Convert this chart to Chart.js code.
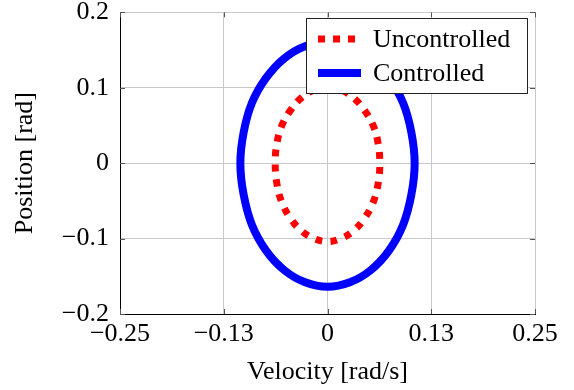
<!DOCTYPE html>
<html>
<head>
<meta charset="utf-8">
<title>Phase portrait</title>
<script src="https://cdn.jsdelivr.net/npm/chart.js@4.4.1/dist/chart.umd.min.js"></script>
<style>
  body { margin: 0; background: #fff; }
  #wrap { width: 574px; height: 390px; }
</style>
</head>
<body>
<div id="wrap"><canvas id="chart1" width="574" height="390"></canvas></div>
<script>
// data (velocity = x, position = y)
const uncontrolledVel = [0, 0.016, 0.031, 0.044, 0.055, 0.061, 0.063, 0.061, 0.055, 0.044, 0.031, 0.016, 0, -0.016, -0.031, -0.044, -0.055, -0.061, -0.063, -0.061, -0.055, -0.044, -0.031, -0.016, 0];
const uncontrolledPos = [0.1, 0.097, 0.087, 0.071, 0.05, 0.026, 0, -0.027, -0.052, -0.074, -0.09, -0.1, -0.104, -0.1, -0.09, -0.074, -0.052, -0.027, 0, 0.026, 0.05, 0.071, 0.087, 0.097, 0.1];

const controlledVel = [0, 0.027, 0.052, 0.074, 0.091, 0.101, 0.105, 0.101, 0.091, 0.074, 0.052, 0.027, 0, -0.027, -0.052, -0.074, -0.091, -0.101, -0.105, -0.101, -0.091, -0.074, -0.052, -0.027, 0];
const controlledPos = [0.16, 0.155, 0.139, 0.113, 0.08, 0.041, 0, -0.042, -0.082, -0.116, -0.142, -0.158, -0.164, -0.158, -0.142, -0.116, -0.082, -0.042, 0, 0.041, 0.08, 0.113, 0.139, 0.155, 0.16];

const xTicks = [-0.25, -0.125, 0, 0.125, 0.25];
const xTickLabels = ["\u22120.25", "\u22120.13", "0", "0.13", "0.25"];
const yTicks = [-0.2, -0.1, 0, 0.1, 0.2];
const yTickLabels = ["\u22120.2", "\u22120.1", "0", "0.1", "0.2"];

const seriesNames = ["Uncontrolled", "Controlled"];

function toPoints(xs, ys) {
  return xs.map(function (x, i) { return { x: x, y: ys[i] }; });
}

const serif = "'Liberation Serif', 'DejaVu Serif', serif";
const fontSize = 26;
const gridColor = "#c8c8c8";

// legend box drawn over the plot, like the pgfplots one
const boxLegend = {
  id: "boxLegend",
  afterDraw(chart) {
    const c = chart.ctx;
    const x0 = 306, y0 = 18, w = 221, h = 75;
    c.save();
    c.fillStyle = "#fff";
    c.fillRect(x0, y0, w, h);
    c.strokeStyle = "#222";
    c.lineWidth = 1;
    c.strokeRect(x0 + 0.5, y0 + 0.5, w, h);
    chart.data.datasets.forEach(function (ds, i) {
      const y = y0 + 21 + i * 34;
      c.beginPath();
      c.strokeStyle = ds.borderColor;
      c.lineWidth = ds.borderWidth;
      c.setLineDash(ds.borderDash || []);
      c.lineCap = "butt";
      c.moveTo(x0 + 12, y);
      c.lineTo(x0 + 55, y);
      c.stroke();
      c.setLineDash([]);
      c.fillStyle = "#000";
      c.font = fontSize + "px " + serif;
      c.textBaseline = "middle";
      c.fillText(ds.label, x0 + 67, y + 1);
    });
    c.restore();
  },
  // small inward tick marks on the axes
  beforeDatasetsDraw(chart) {
    const c = chart.ctx;
    const a = chart.chartArea;
    const xs = chart.scales.x, ys = chart.scales.y;
    c.save();
    c.strokeStyle = "#555";
    c.lineWidth = 1;
    c.beginPath();
    xTicks.forEach(function (v) {
      const px = Math.round(xs.getPixelForValue(v)) + 0.5;
      c.moveTo(px, a.bottom); c.lineTo(px, a.bottom - 5);
      c.moveTo(px, a.top); c.lineTo(px, a.top + 5);
    });
    yTicks.forEach(function (v) {
      const py = Math.round(ys.getPixelForValue(v)) + 0.5;
      c.moveTo(a.left, py); c.lineTo(a.left + 5, py);
      c.moveTo(a.right, py); c.lineTo(a.right - 5, py);
    });
    c.stroke();
    c.restore();
  }
};

const ctx = document.getElementById("chart1");
new Chart(ctx, {
  type: "scatter",
  data: {
    datasets: [
      {
        label: seriesNames[0],
        data: toPoints(uncontrolledVel, uncontrolledPos),
        showLine: true,
        borderColor: "#ff0000",
        borderWidth: 7,
        borderDash: [7, 8],
        tension: 0.4,
        pointRadius: 0,
        fill: false,
      },
      {
        label: seriesNames[1],
        data: toPoints(controlledVel, controlledPos),
        showLine: true,
        borderColor: "#0000ff",
        borderWidth: 8,
        tension: 0.4,
        pointRadius: 0,
        fill: false,
      },
    ],
  },
  options: {
    responsive: false,
    animation: false,
    layout: { autoPadding: false, padding: { left: 0, top: 11, right: 39, bottom: 0 } },
    plugins: {
      legend: { display: false },
      tooltip: { enabled: false },
    },
    scales: {
      x: {
        type: "linear",
        min: -0.25,
        max: 0.25,
        afterBuildTicks: function (scale) {
          scale.ticks = xTicks.map(function (v) { return { value: v }; });
        },
        afterFit: function (scale) { scale.height = 76; },
        ticks: {
          color: "#000",
          padding: 5,
          maxRotation: 0,
          font: { family: serif, size: fontSize },
          callback: function (v, i) { return xTickLabels[i]; },
        },
        grid: { color: gridColor, drawTicks: false },
        border: { color: "#000", width: 1 },
        title: {
          display: true,
          text: "Velocity [rad/s]",
          color: "#000",
          font: { family: serif, size: fontSize },
          padding: { top: 0, bottom: 2 },
        },
      },
      y: {
        type: "linear",
        min: -0.2,
        max: 0.2,
        afterBuildTicks: function (scale) {
          scale.ticks = yTicks.map(function (v) { return { value: v }; });
        },
        afterFit: function (scale) { scale.width = 120; },
        ticks: {
          color: "#000",
          padding: 11,
          font: { family: serif, size: fontSize, lineHeight: 0.1 },
          callback: function (v, i) { return yTickLabels[i]; },
        },
        grid: { color: gridColor, drawTicks: false },
        border: { color: "#000", width: 1 },
        title: {
          display: true,
          text: "Position [rad]",
          color: "#000",
          font: { family: serif, size: fontSize },
          padding: { top: 10, bottom: 0 },
        },
      },
    },
  },
  plugins: [boxLegend],
});
</script>
</body>
</html>
